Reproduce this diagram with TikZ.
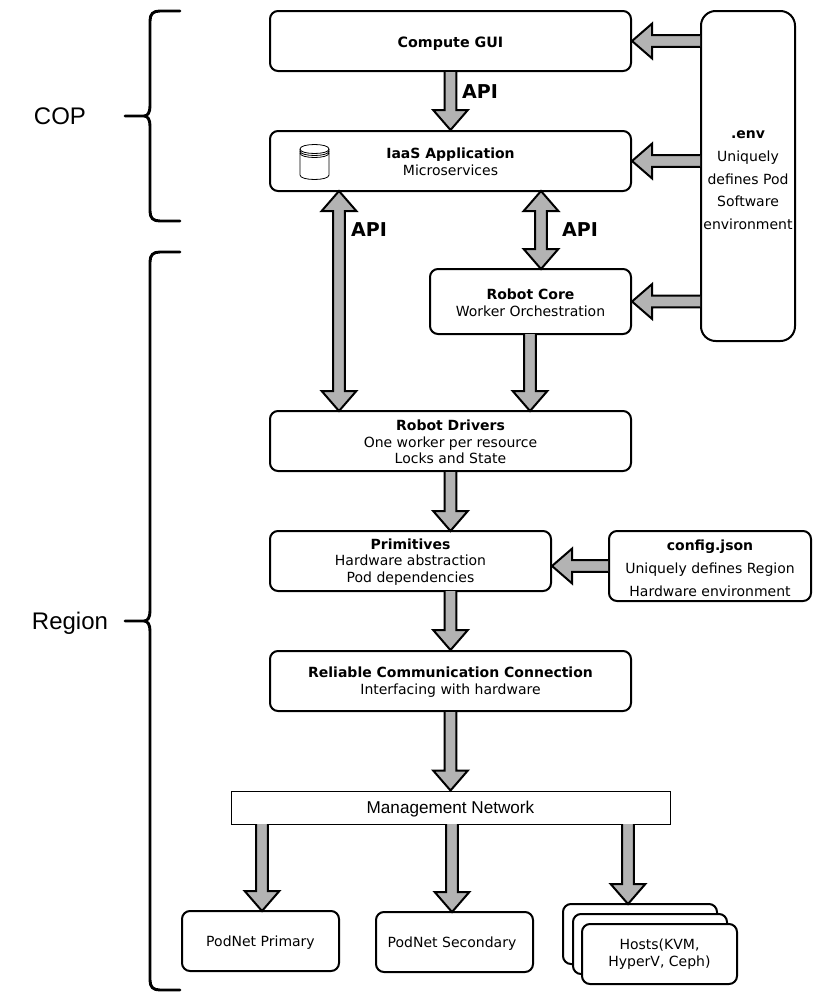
\documentclass[tikz,border=0pt]{standalone}
\usepackage{fontspec}
\setmainfont{DejaVu Sans}
\newfontfamily\helv{Liberation Sans}
\usetikzlibrary{calc}
\definecolor{arrowgray}{HTML}{B3B3B3}
\tikzset{
  x=0.75pt,y=-0.75pt,
  boxsize/.style 2 args={minimum width=#1*0.75pt,minimum height=#2*0.75pt},
  boxbase/.style={draw=black,fill=white,line width=1.5pt,rounded corners=6pt,inner sep=0pt,align=center,anchor=center,font=\fontsize{10.5}{12.4}\selectfont},
  blockarrow/.style={draw=black,fill=arrowgray,line width=1.5pt,line join=miter,miter limit=6},
  bracket/.style={draw=black,line width=2.2pt,line cap=round},
  apilabel/.style={font=\fontsize{14.3}{16}\selectfont\bfseries,inner sep=0pt},
  sidelabel/.style={font=\helv\fontsize{18}{20}\selectfont,inner sep=0pt},
}
\newcommand{\firstline}[1]{\rule{0pt}{#1}}
\def\sw{4.4pt}
\def\hw{13pt}
\def\hl{15pt}
% single-headed block arrow from #1 to #2
\newcommand{\onearrow}[2]{%
  \coordinate (hh) at ($(#2)!\hl!(#1)$);
  \draw[blockarrow] ($(#1)!\sw!90:(#2)$) -- ($(hh)!\sw!-90:(#1)$) -- ($(hh)!\hw!-90:(#1)$) -- (#2)
    -- ($(hh)!\hw!90:(#1)$) -- ($(hh)!\sw!90:(#1)$) -- ($(#1)!\sw!-90:(#2)$);
}
% double-headed block arrow between #1 and #2
\newcommand{\twoarrow}[2]{%
  \coordinate (hh) at ($(#2)!\hl!(#1)$);
  \coordinate (gg) at ($(#1)!\hl!(#2)$);
  \draw[blockarrow] (#1) -- ($(gg)!\hw!90:(#2)$) -- ($(gg)!\sw!90:(#2)$)
    -- ($(hh)!\sw!-90:(#1)$) -- ($(hh)!\hw!-90:(#1)$) -- (#2)
    -- ($(hh)!\hw!90:(#1)$) -- ($(hh)!\sw!90:(#1)$)
    -- ($(gg)!\sw!-90:(#2)$) -- ($(gg)!\hw!-90:(#2)$) -- cycle;
}
\begin{document}
\begin{tikzpicture}
\useasboundingbox (0,0) rectangle (822,1004);
% boxes
\node[boxbase,boxsize={361}{60}] (gui) at (450.5,41) {\fontsize{10.7}{13}\selectfont\firstline{11.5pt}\textbf{Compute GUI}};
\node[boxbase,boxsize={361}{60}] (iaas) at (450.5,161) {\firstline{9.5pt}\textbf{IaaS Application}\\Microservices};
\node[boxbase,rounded corners=11pt,boxsize={94}{330},font=\fontsize{10.5}{17}\selectfont] (env) at (748,176) {\firstline{12.5pt}\textbf{.env}\\Uniquely\\defines Pod\\Software\\environment};
\node[boxbase,boxsize={201}{65}] (core) at (530.5,301.5) {\firstline{9.5pt}\textbf{Robot Core}\\Worker Orchestration};
\node[boxbase,boxsize={361}{60}] (drivers) at (450.5,441) {\firstline{9.5pt}\textbf{Robot Drivers}\\One worker per resource\\Locks and State};
\node[boxbase,boxsize={281}{60}] (prim) at (410.5,561) {\firstline{9.5pt}\textbf{Primitives}\\Hardware abstraction\\Pod dependencies};
\node[boxbase,boxsize={202}{70},font=\fontsize{10.5}{17.25}\selectfont] (config) at (710,566) {\firstline{11.5pt}\textbf{config.json}\\Uniquely defines Region\\Hardware environment};
\node[boxbase,boxsize={361}{60}] (rcc) at (450.5,681) {\firstline{9.5pt}\textbf{Reliable Communication Connection}\\Interfacing with hardware};
\node[draw=black,fill=white,line width=0.75pt,inner sep=0pt,boxsize={439}{33},font=\helv\fontsize{12.85}{14}\selectfont] (mgmt) at (450.5,807.5) {\rule{0pt}{11.5pt}Management Network};
\node[boxbase,boxsize={157}{60}] (primary) at (260.5,941) {\firstline{11pt}PodNet Primary};
\node[boxbase,boxsize={157}{60}] (secondary) at (454.5,942) {\firstline{11pt}PodNet Secondary\hspace*{3.75pt}};
\node[boxbase,boxsize={154}{60}] (hostc) at (640,934) {};
\node[boxbase,boxsize={154}{60}] (hostb) at (650,944) {};
\node[boxbase,boxsize={155}{60},font=\fontsize{10.5}{13}\selectfont] (hosta) at (659.5,954) {Hosts(KVM,\\HyperV, Ceph)};
% database icon
\draw[black,line width=0.6pt,fill=white] (300,149) -- (300,175) .. controls (300,181) and (329,181) .. (329,175) -- (329,149) .. controls (329,143) and (300,143) .. (300,149) -- cycle;
\draw[black,line width=0.6pt] (300,149) .. controls (300,155) and (329,155) .. (329,149)
  (300,151) .. controls (300,157) and (329,157) .. (329,151)
  (300,153) .. controls (300,159) and (329,159) .. (329,153);
% connector ends
\coordinate (envA) at (env.west |- gui.west);
\coordinate (envB) at (env.west |- iaas.east);
\coordinate (envC) at (env.west |- core.east);
\coordinate (iaasL) at (339,191);
\coordinate (driversL) at (339,411);
\coordinate (iaasR) at (541,191);
\coordinate (coreT) at (541,269);
\coordinate (coreB) at (530,334);
\coordinate (driversR) at (530,411);
\coordinate (primT) at (450.5,531);
\coordinate (primB) at (450.5,591);
\coordinate (configW) at (config.west);
\coordinate (primE) at (prim.east |- config.west);
\coordinate (mgmtA) at (262,824);
\coordinate (primaryT) at (262,911);
\coordinate (mgmtB) at (452,824);
\coordinate (secondaryT) at (452,912);
\coordinate (mgmtC) at (628,824);
\coordinate (hostT) at (628,904);
% connectors
\onearrow{envA}{gui.east}
\onearrow{envB}{iaas.east}
\onearrow{envC}{core.east}
\onearrow{gui.south}{iaas.north}
\twoarrow{iaasL}{driversL}
\twoarrow{iaasR}{coreT}
\onearrow{coreB}{driversR}
\onearrow{drivers.south}{primT}
\onearrow{configW}{primE}
\onearrow{primB}{rcc.north}
\onearrow{rcc.south}{mgmt.north}
\onearrow{mgmtA}{primaryT}
\onearrow{mgmtB}{secondaryT}
\onearrow{mgmtC}{hostT}
% API labels
\node[apilabel] (api1) at (480,92) {API};
\node[apilabel] (api2) at (369,230) {API};
\node[apilabel] (api3) at (580,230) {API};
% brackets
\draw[bracket] (180,11) -- (160,11) .. controls (153,11) and (150,14) .. (150,21) -- (150,106) .. controls (150,112) and (148,116) .. (144,116) -- (125,116)
  (144,116) .. controls (148,116) and (150,120) .. (150,126) -- (150,211) .. controls (150,218) and (153,221) .. (160,221) -- (180,221);
\draw[bracket] (180,252) -- (160,252) .. controls (153,252) and (150,255) .. (150,262) -- (150,611) .. controls (150,617) and (148,621) .. (144,621) -- (125,621)
  (144,621) .. controls (148,621) and (150,625) .. (150,631) -- (150,980) .. controls (150,987) and (153,990) .. (160,990) -- (180,990);
\node[sidelabel] (cop) at (60,116) {COP};
\node[sidelabel] (region) at (70,623) {Region};
\end{tikzpicture}
\end{document}
